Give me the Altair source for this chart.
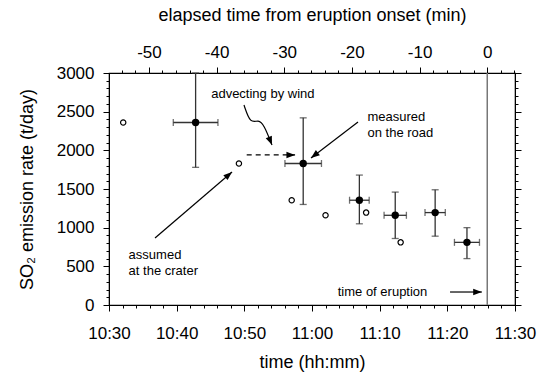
import math
import altair as alt
import pandas as pd

# ---------------- data (minutes after 10:30, SO2 t/day) ----------------
assumed_time = [2.1, 19.2, 27.0, 32.0, 38.0, 43.1]
assumed_value = [2360, 1830, 1355, 1160, 1195, 810]

measured_time = [12.8, 28.7, 37.0, 42.3, 48.2, 52.9]
measured_value = [2360, 1830, 1355, 1160, 1195, 810]
measured_xerr = [3.3, 2.7, 1.45, 1.65, 1.5, 1.85]
measured_lo = [1780, 1300, 1050, 860, 890, 600]
measured_hi = [3000, 2420, 1680, 1460, 1490, 1000]

eruption_time = [55.9]  # 11:25.9 -> elapsed 0

# annotations (data units)
ann_text = ["advecting by wind", "measured", "on the road", "assumed", "at the crater", "time of eruption"]
ann_x = [15.1, 38.2, 38.2, 2.9, 2.9, 33.8]
ann_y = [2730, 2430, 2225, 650, 445, 168]

arrow_x1 = [36.8, 6.8, 50.4]
arrow_y1 = [2366, 866, 168]
arrow_x2 = [29.85, 18.18, 55.1]
arrow_y2 = [1901, 1720, 168]

dash_x1, dash_y1, dash_x2, dash_y2 = [20.35], [1940], [27.5], [1940]

squig_x = [19.95, 20.9, 22.1, 22.9, 24.09]
squig_y = [2586, 2340, 2400, 2330, 2069]

# ---------------- layout ----------------
W, H = 406, 232
F = "Liberation Sans"
XD = [0, 60]
YD = [0, 3000]
xs = alt.Scale(domain=XD, nice=False, zero=False)
ys = alt.Scale(domain=YD, nice=False, zero=False)
es = alt.Scale(domain=[-eruption_time[0], 60 - eruption_time[0]], nice=False, zero=False)


def X(f):
    return alt.X(f, type="quantitative", scale=xs, axis=None)


def Y(f):
    return alt.Y(f, type="quantitative", scale=ys, axis=None)


def angle(x1, y1, x2, y2):
    dx = (x2 - x1) * W / (XD[1] - XD[0])
    dy = -(y2 - y1) * H / (YD[1] - YD[0])
    return math.degrees(math.atan2(dx, -dy)) % 360


tick_cond10 = {"condition": {"test": "datum.value % 10 === 0", "value": 6}, "value": 3}
tick_cond500 = {"condition": {"test": "datum.value % 500 === 0", "value": 6}, "value": 3}

common_axis = dict(
    grid=False, tickColor="black", domainColor="black", labelColor="black",
    labelFont=F, labelFontSize=17, titleFont=F, titleFontSize=18,
    titleFontWeight="normal", titleColor="black", labelFlush=False,
    labelOverlap=False, tickWidth=1, domainWidth=1,
)

time_label = ("datum.value % 10 === 0 ? (toString(10 + floor((30 + datum.value) / 60)) + ':' + "
              "(((30 + datum.value) % 60) < 10 ? '0' : '') + toString((30 + datum.value) % 60)) : ''")

axes_df = pd.DataFrame({"t": XD, "v": YD})
axes_layer = alt.Chart(axes_df).mark_point(opacity=0).encode(
    x=alt.X("t:Q", scale=xs, axis=alt.Axis(
        orient="bottom", values=list(range(0, 61, 2)), labelExpr=time_label,
        tickSize=tick_cond10, title="time (hh:mm)", labelPadding=14, titlePadding=12,
        **common_axis)),
    y=alt.Y("v:Q", scale=ys, axis=alt.Axis(
        orient="left", values=list(range(0, 3001, 100)),
        labelExpr="datum.value % 500 === 0 ? toString(datum.value) : ''",
        tickSize=tick_cond500, title="SO₂ emission rate (t/day)", labelPadding=9,
        titlePadding=20, **common_axis)),
)

top_df = pd.DataFrame({"e": [-eruption_time[0], 60 - eruption_time[0]], "v": YD})
top_layer = alt.Chart(top_df).mark_point(opacity=0).encode(
    x=alt.X("e:Q", scale=es, axis=alt.Axis(
        orient="top", values=list(range(-54, 5, 2)),
        labelExpr="datum.value % 10 === 0 ? toString(datum.value) : ''",
        tickSize=tick_cond10, title="elapsed time from eruption onset (min)",
        labelPadding=6, titlePadding=19, **common_axis)),
    y=alt.Y("v:Q", scale=ys, axis=alt.Axis(
        orient="right", values=list(range(0, 3001, 100)), labels=False,
        tickSize=tick_cond500, title=None, **common_axis)),
)

erupt = alt.Chart(pd.DataFrame({"t": eruption_time})).mark_rule(
    color="#777777", strokeWidth=1.5).encode(x=X("t"))

meas = pd.DataFrame({
    "t": measured_time, "v": measured_value,
    "tlo": [t - e for t, e in zip(measured_time, measured_xerr)],
    "thi": [t + e for t, e in zip(measured_time, measured_xerr)],
    "lo": measured_lo, "hi": measured_hi,
})
base_m = alt.Chart(meas)
EC = "#333333"
vbar = base_m.mark_rule(color=EC, strokeWidth=1.3).encode(x=X("t"), y=Y("lo"), y2="hi")
hbar = base_m.mark_rule(color=EC, strokeWidth=1.3).encode(x=X("tlo"), x2="thi", y=Y("v"))
cap_lo = base_m.mark_tick(orient="horizontal", size=7, thickness=1.3, color=EC).encode(x=X("t"), y=Y("lo"))
cap_hi = base_m.mark_tick(orient="horizontal", size=7, thickness=1.3, color=EC).encode(x=X("t"), y=Y("hi"))
cap_l = base_m.mark_tick(orient="vertical", size=7, thickness=1.3, color=EC).encode(x=X("tlo"), y=Y("v"))
cap_r = base_m.mark_tick(orient="vertical", size=7, thickness=1.3, color=EC).encode(x=X("thi"), y=Y("v"))
filled = base_m.mark_point(filled=True, color="black", size=55, opacity=1).encode(x=X("t"), y=Y("v"))

assumed = alt.Chart(pd.DataFrame({"t": assumed_time, "v": assumed_value})).mark_point(
    filled=True, fill="white", stroke="black", strokeWidth=1.2, size=28, opacity=1).encode(
    x=X("t"), y=Y("v"))

texts = alt.Chart(pd.DataFrame({"t": ann_x, "v": ann_y, "s": ann_text})).mark_text(
    align="left", baseline="middle", font=F, fontSize=13, color="black").encode(
    x=X("t"), y=Y("v"), text="s:N")

arr = pd.DataFrame({"x1": arrow_x1, "y1": arrow_y1, "x2": arrow_x2, "y2": arrow_y2})
arrow_lines = alt.Chart(arr).mark_rule(color="black", strokeWidth=1.2).encode(
    x=X("x1"), y=Y("y1"), x2="x2", y2="y2")

dash = pd.DataFrame({"x1": dash_x1, "y1": dash_y1, "x2": dash_x2, "y2": dash_y2})
dash_line = alt.Chart(dash).mark_rule(color="black", strokeWidth=1.2, strokeDash=[5, 4]).encode(
    x=X("x1"), y=Y("y1"), x2="x2", y2="y2")

squig = alt.Chart(pd.DataFrame({"x": squig_x, "y": squig_y, "o": list(range(len(squig_x)))})).mark_line(
    color="black", strokeWidth=1.2, interpolate="basis").encode(
    x=X("x"), y=Y("y"), order="o:Q")

heads_x = arrow_x2 + dash_x2 + [squig_x[-1]]
heads_y = arrow_y2 + dash_y2 + [squig_y[-1]]
heads_a = [angle(a, b, c, d) for a, b, c, d in zip(arrow_x1, arrow_y1, arrow_x2, arrow_y2)]
heads_a += [angle(dash_x1[0], dash_y1[0], dash_x2[0], dash_y2[0])]
heads_a += [angle(squig_x[-2], squig_y[-2], squig_x[-1], squig_y[-1])]
heads = alt.Chart(pd.DataFrame({"x": heads_x, "y": heads_y, "a": heads_a})).mark_point(
    shape="M0,0 L0.38,1 L-0.38,1 Z", filled=True, color="black", size=300, opacity=1).encode(
    x=X("x"), y=Y("y"), angle=alt.Angle("a:Q", scale=None))

chart = alt.layer(
    axes_layer, top_layer, erupt, vbar, hbar, cap_lo, cap_hi, cap_l, cap_r,
    assumed, filled, dash_line, arrow_lines, squig, heads, texts,
).resolve_scale(x="independent", y="independent").properties(
    width=W, height=H,
    autosize=alt.AutoSizeParams(type="none"),
    padding={"left": 109, "top": 73, "right": 23, "bottom": 69},
    background="white",
).configure_view(stroke="black", strokeWidth=1.2)

chart.save("out.html", embed_options={"renderer": "svg", "actions": False})
